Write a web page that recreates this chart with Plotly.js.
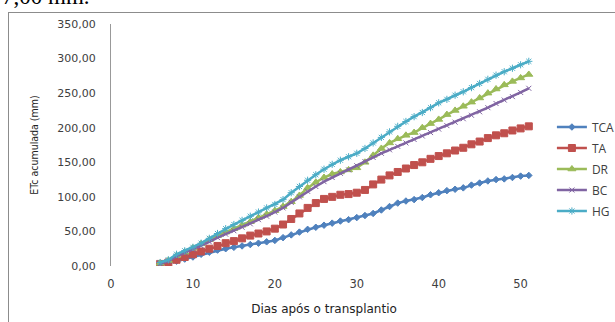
<!DOCTYPE html>
<html><head><meta charset="utf-8">
<script src="https://cdn.plot.ly/plotly-3.0.1.min.js"></script>
<style>
html,body{margin:0;padding:0;background:#fff;width:615px;height:322px;overflow:hidden;position:relative;}
#top{position:absolute;left:2px;top:-16px;font-family:"Liberation Serif",serif;font-size:23px;color:#000;white-space:nowrap;}
#frame{position:absolute;left:8px;top:12px;width:620px;height:320px;border-top:1.5px solid #8c8c8c;border-left:1.5px solid #8c8c8c;}
#chart{position:absolute;left:0;top:0;width:615px;height:322px;}
</style></head><body>
<div id="top">7,00 mm.</div>
<div id="frame"></div>
<div id="chart"></div>
<script>
const days = [6,7,8,9,10,11,12,13,14,15,16,17,18,19,20,21,22,23,24,25,26,27,28,29,30,31,32,33,34,35,36,37,38,39,40,41,42,43,44,45,46,47,48,49,50,51];
const TCA = [2,4,7,10,13,17,20,23,25,27,29,31,33,35,37,41,45,49,53,56,59,62,65,67,70,73,76,81,86,91,94,96,99,103,106,109,111,113,117,120,123,125,126,128,130,131];
const TA  = [3,5,9,13,17,21,25,29,33,36,40,44,47,50,54,60,68,76,84,91,97,100,103,104,106,110,118,125,131,136,141,146,150,155,159,163,167,171,176,180,185,189,192,196,199,202];
const DR  = [4,8,15,20,26,32,38,44,49,54,59,64,70,75,80,86,93,102,113,121,128,133,136,139,142,150,160,170,178,184,189,193,200,206,212,219,225,231,237,243,250,256,262,267,272,277];
const BC  = [3,7,14,19,24,29,35,41,46,51,56,61,67,72,78,84,92,100,108,115,122,128,134,139,145,151,157,163,168,173,178,183,188,193,198,203,208,213,218,223,229,235,240,245,251,257];
const HG  = [5,9,17,22,27,33,40,47,54,60,66,72,78,84,89,96,106,115,124,132,140,147,153,158,163,170,178,186,194,202,209,216,222,229,236,241,247,252,258,264,270,276,281,286,291,296];
const yTicks = [0,50,100,150,200,250,300,350];
const yTickText = yTicks.map(v => v.toFixed(2).replace('.', ','));
const xTicks = [0,10,20,30,40,50];

const series = [
  {name:'TCA', y:TCA, color:'#4F81BD', symbol:'diamond', size:5},
  {name:'TA',  y:TA,  color:'#C0504D', symbol:'square', size:7},
  {name:'DR',  y:DR,  color:'#9BBB59', symbol:'triangle-up', size:7},
  {name:'BC',  y:BC,  color:'#8064A2', symbol:'x-thin-open', size:5},
  {name:'HG',  y:HG,  color:'#4BACC6', symbol:'asterisk-open', size:6}
];
const legendIds = ['legend','legend2','legend3','legend4','legend5'];
const data = series.map((s, i) => ({
  x: days, y: s.y, name: s.name, type:'scatter', mode:'lines+markers',
  legend: legendIds[i],
  line:{color:s.color, width:2.5},
  marker:{symbol:s.symbol, size:s.size, color:s.color, line:{color:s.color, width:1}}
}));
const layout = {
  width:615, height:322,
  margin:{l:111, r:78, t:24, b:56, autoexpand:false},
  paper_bgcolor:'rgba(0,0,0,0)', plot_bgcolor:'rgba(0,0,0,0)',
  font:{family:'"DejaVu Sans", sans-serif', size:11, color:'#404040'},
  showlegend:true,
  xaxis:{range:[0,52], tickvals:xTicks, ticktext:xTicks.map(String), showgrid:false, zeroline:false, showline:false,
    ticks:'outside', ticklen:7, tickcolor:'rgba(0,0,0,0)', tickfont:{size:11.5, color:'#404040'},
    title:{text:'Dias após o transplantio', font:{size:12, color:'#222'}, standoff:14}},
  yaxis:{range:[0,350], tickvals:yTicks, ticktext:yTickText, showgrid:false, zeroline:false, showline:true, linecolor:'#999', linewidth:1,
    ticks:'outside', ticklen:12, tickcolor:'rgba(0,0,0,0)', tickfont:{size:11, color:'#404040'},
    title:{text:'ETc acumulada (mm)', font:{size:10.5, color:'#222', family:'"DejaVu Sans Condensed","Liberation Sans Narrow", sans-serif'}, standoff:16}}
};
const legendRowsPx = [127,148,169,190,211];
legendIds.forEach((id, i) => {
  layout[id] = {x:1.035, y:(266 - legendRowsPx[i]) / 242, xanchor:'left', yanchor:'middle',
    font:{size:12, color:'#404040', family:'"Open Sans", sans-serif'}, bgcolor:'rgba(0,0,0,0)', itemwidth:30,
    borderwidth:0};
});
Plotly.newPlot('chart', data, layout, {displayModeBar:false, staticPlot:true});
</script>
</body></html>
